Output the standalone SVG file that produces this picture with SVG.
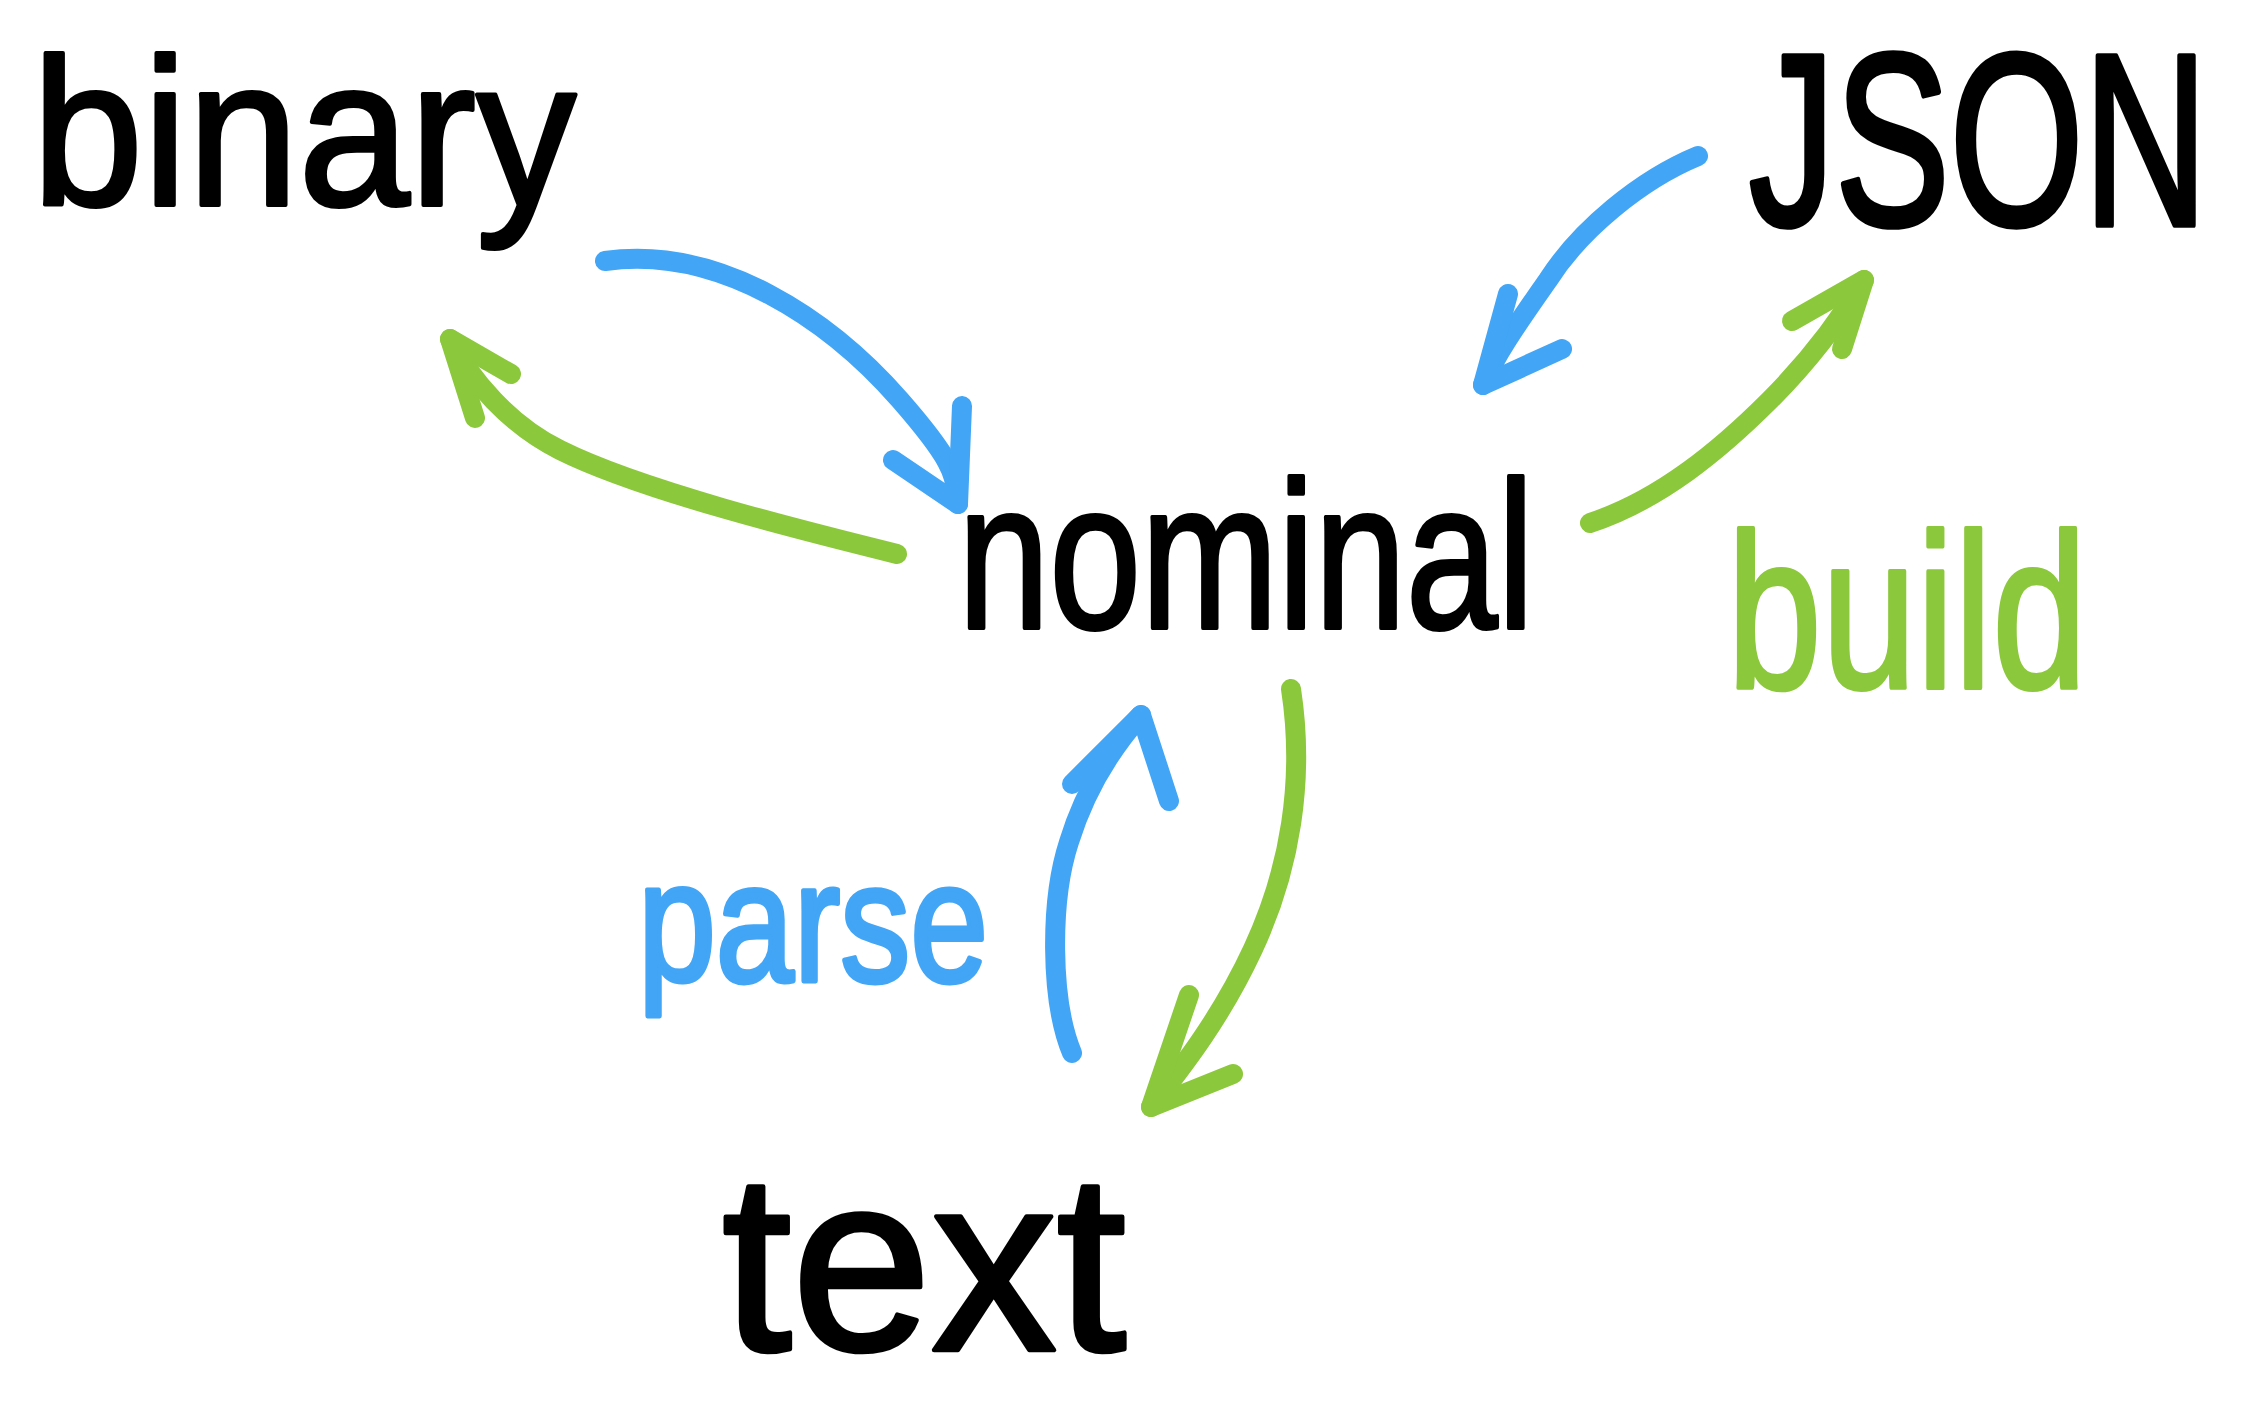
<svg xmlns="http://www.w3.org/2000/svg" width="2258" height="1407" viewBox="0 0 2258 1407">
<style>
.lbl{font-family:"Liberation Sans","DejaVu Sans",sans-serif;stroke-linejoin:round;stroke-width:4}
.blk{fill:#000;stroke:#000}
.blu{fill:#42A5F5;stroke:#42A5F5}
.grn{fill:#8CC83C;stroke:#8CC83C}
.arr{fill:none;stroke-width:20;stroke-linecap:round;stroke-linejoin:round}
.ab{stroke:#42A5F5}
.ag{stroke:#8CC83C}
</style>
<rect width="2258" height="1407" fill="#fff"/>
<g id="connectors">
<g id="binary-to-nominal" class="arr ab"><path d="M605,261 C720,245 830,320 900,400 S950,480 958,504"/><path d="M893,460 L958,504 L962,406"/></g>
<g id="nominal-to-binary" class="arr ag"><path d="M897,554 C800,530 640,490 560,450 C510,425 470,380 450,339"/><path d="M475,418 L450,339 L511,374"/></g>
<g id="json-to-nominal" class="arr ab"><path d="M1698,156 C1640,180 1580,230 1548,280 C1520,320 1495,355 1483,385"/><path d="M1508,294 L1483,385 L1562,349"/></g>
<g id="nominal-to-json" class="arr ag"><path d="M1590,523 C1660,500 1720,450 1770,400 C1810,360 1840,320 1864,280"/><path d="M1792,321 L1864,280 L1842,349"/></g>
<g id="text-to-nominal" class="arr ab"><path d="M1072,1053 C1050,1000 1050,900 1069,842 C1085,790 1110,750 1141,715"/><path d="M1072,784 L1141,715 L1169,801"/></g>
<g id="nominal-to-text" class="arr ag"><path d="M1291,689 C1305,780 1290,870 1253,949 C1220,1020 1180,1070 1151,1107"/><path d="M1189,995 L1151,1107 L1233,1074"/></g>
</g>
<g id="binary"><text class="lbl blk" x="32" y="205" font-size="210" textLength="544" lengthAdjust="spacingAndGlyphs">binary</text></g>
<g id="json"><text class="lbl blk" transform="translate(1749,225) scale(1,1.42)" x="0" y="0" font-size="172">JSON</text></g>
<g id="nominal"><text class="lbl blk" x="958" y="628" font-size="210" textLength="576" lengthAdjust="spacingAndGlyphs">nominal</text></g>
<g id="text"><text class="lbl blk" transform="translate(722,1350) scale(1.14,1.15)" x="0" y="0" font-size="220">text</text></g>
<g id="build-label"><text class="lbl grn" x="1727" y="688" font-size="220" textLength="360" lengthAdjust="spacingAndGlyphs">build</text></g>
<g id="parse-label"><text class="lbl blu" transform="translate(638,981) scale(1,1.22)" x="0" y="0" font-size="140">parse</text></g>
</svg>
